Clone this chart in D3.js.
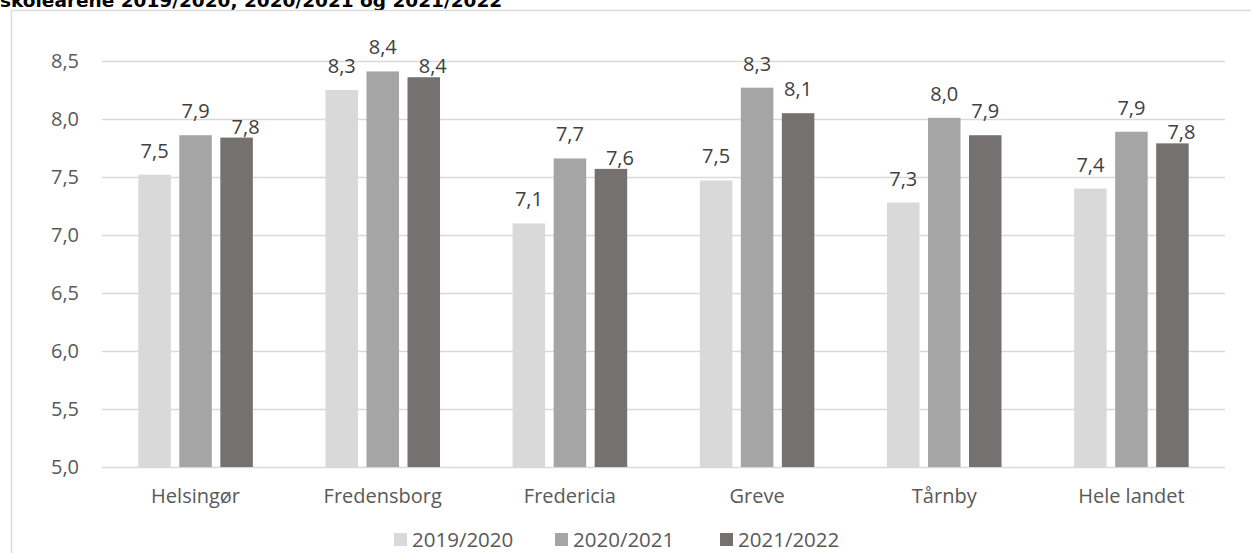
<!DOCTYPE html>
<html>
<head>
<meta charset="utf-8">
<script src="https://cdn.jsdelivr.net/npm/d3@7"></script>
<style>
  html, body { margin: 0; padding: 0; background: #ffffff; overflow: hidden; }
  svg { display: block; }
</style>
</head>
<body>
<svg id="chart" width="1251" height="553"></svg>
<script>
// ---- data ----
const titleText = "skoleårene 2019/2020, 2020/2021 og 2021/2022";
const categories = ["Helsingør", "Fredensborg", "Fredericia", "Greve", "Tårnby", "Hele landet"];
const seriesNames = ["2019/2020", "2020/2021", "2021/2022"];
const values2019 = [7.52, 8.25, 7.10, 7.47, 7.28, 7.40];
const values2020 = [7.86, 8.41, 7.66, 8.27, 8.01, 7.89];
const values2021 = [7.84, 8.36, 7.57, 8.05, 7.86, 7.79];
const yTicks = [5.0, 5.5, 6.0, 6.5, 7.0, 7.5, 8.0, 8.5];
const seriesColors = ["#d9d9d9", "#a5a5a5", "#767171"];

const seriesValues = [values2019, values2020, values2021];

// ---- layout ----
const W = 1251, H = 553;
const plot = { left: 102, right: 1225, top: 61, bottom: 467 };
const fontFamily = "'Open Sans', 'Noto Sans', sans-serif";
const fs = 20;

const svg = d3.select("#chart");

// title (cut off at the top, as in the source)
svg.append("text")
  .attr("x", 0)
  .attr("y", 7)
  .attr("font-family", "'DejaVu Sans', Verdana, sans-serif")
  .attr("font-weight", "bold")
  .attr("font-size", 18.5)
  .attr("fill", "#000000")
  .text(titleText);

// chart border
svg.append("rect")
  .attr("x", 11.5)
  .attr("y", 10.5)
  .attr("width", W + 20)
  .attr("height", H + 20)
  .attr("fill", "none")
  .attr("stroke", "#d9d9d9")
  .attr("stroke-width", 1.3);

const y = d3.scaleLinear().domain([5, 8.5]).range([plot.bottom, plot.top]);
const x0 = d3.scaleBand().domain(categories).range([plot.left, plot.right])
  .paddingInner(0.388).paddingOuter(0.194);
const x1 = d3.scaleBand().domain(seriesNames).range([0, x0.bandwidth()])
  .paddingInner(0.207).paddingOuter(0);

const fmt = v => d3.format(".1f")(v).replace(".", ",");

// gridlines + y-axis labels
const yAxis = d3.axisLeft(y).tickValues(yTicks).tickSize(-(plot.right - plot.left)).tickPadding(23).tickFormat(fmt);
const gy = svg.append("g").attr("transform", `translate(${plot.left},0)`).call(yAxis);
gy.select(".domain").remove();
gy.selectAll(".tick line").attr("stroke", "#d9d9d9").attr("stroke-width", 1.5);
gy.selectAll(".tick text")
  .attr("font-family", fontFamily).attr("font-size", fs).attr("fill", "#595959");

// bars
const groups = svg.append("g").selectAll("g")
  .data(categories)
  .join("g")
  .attr("transform", d => `translate(${x0(d)},0)`);

groups.selectAll("rect")
  .data((c, ci) => seriesNames.map((s, si) => ({ s, si, v: seriesValues[si][ci] })))
  .join("rect")
  .attr("x", d => x1(d.s))
  .attr("y", d => y(d.v))
  .attr("width", x1.bandwidth())
  .attr("height", d => plot.bottom - y(d.v))
  .attr("fill", d => seriesColors[d.si]);

// data labels with simple collision avoidance
const labelData = [];
categories.forEach((c, ci) => {
  let prevY = null;
  seriesNames.forEach((s, si) => {
    const v = seriesValues[si][ci];
    const top = y(v);
    let cy = top - 24;
    let cx = x0(c) + x1(s) + x1.bandwidth() / 2;
    if (prevY !== null && Math.abs(cy - prevY) < 15) {
      cy = top - 11;
      cx += 9;
    }
    labelData.push({ cx, cy, text: fmt(v) });
    prevY = cy;
  });
});

svg.append("g").selectAll("text")
  .data(labelData)
  .join("text")
  .attr("x", d => d.cx)
  .attr("y", d => d.cy)
  .attr("dy", "0.35em")
  .attr("text-anchor", "middle")
  .attr("font-family", fontFamily)
  .attr("font-size", fs)
  .attr("fill", "#404040")
  .text(d => d.text);

// category axis labels
svg.append("g").selectAll("text")
  .data(categories)
  .join("text")
  .attr("x", d => x0(d) + x0.bandwidth() / 2)
  .attr("y", 503)
  .attr("text-anchor", "middle")
  .attr("font-family", fontFamily)
  .attr("font-size", fs)
  .attr("fill", "#595959")
  .text(d => d);

// legend
const legendX = [394, 555, 720];
const legend = svg.append("g").selectAll("g")
  .data(seriesNames)
  .join("g")
  .attr("transform", (d, i) => `translate(${legendX[i]},533)`);
legend.append("rect")
  .attr("width", 13).attr("height", 13)
  .attr("fill", (d, i) => seriesColors[i]);
legend.append("text")
  .attr("x", 18)
  .attr("y", 13.5)
  .attr("font-family", fontFamily)
  .attr("font-size", 20.5)
  .attr("fill", "#595959")
  .text(d => d);
</script>
</body>
</html>
